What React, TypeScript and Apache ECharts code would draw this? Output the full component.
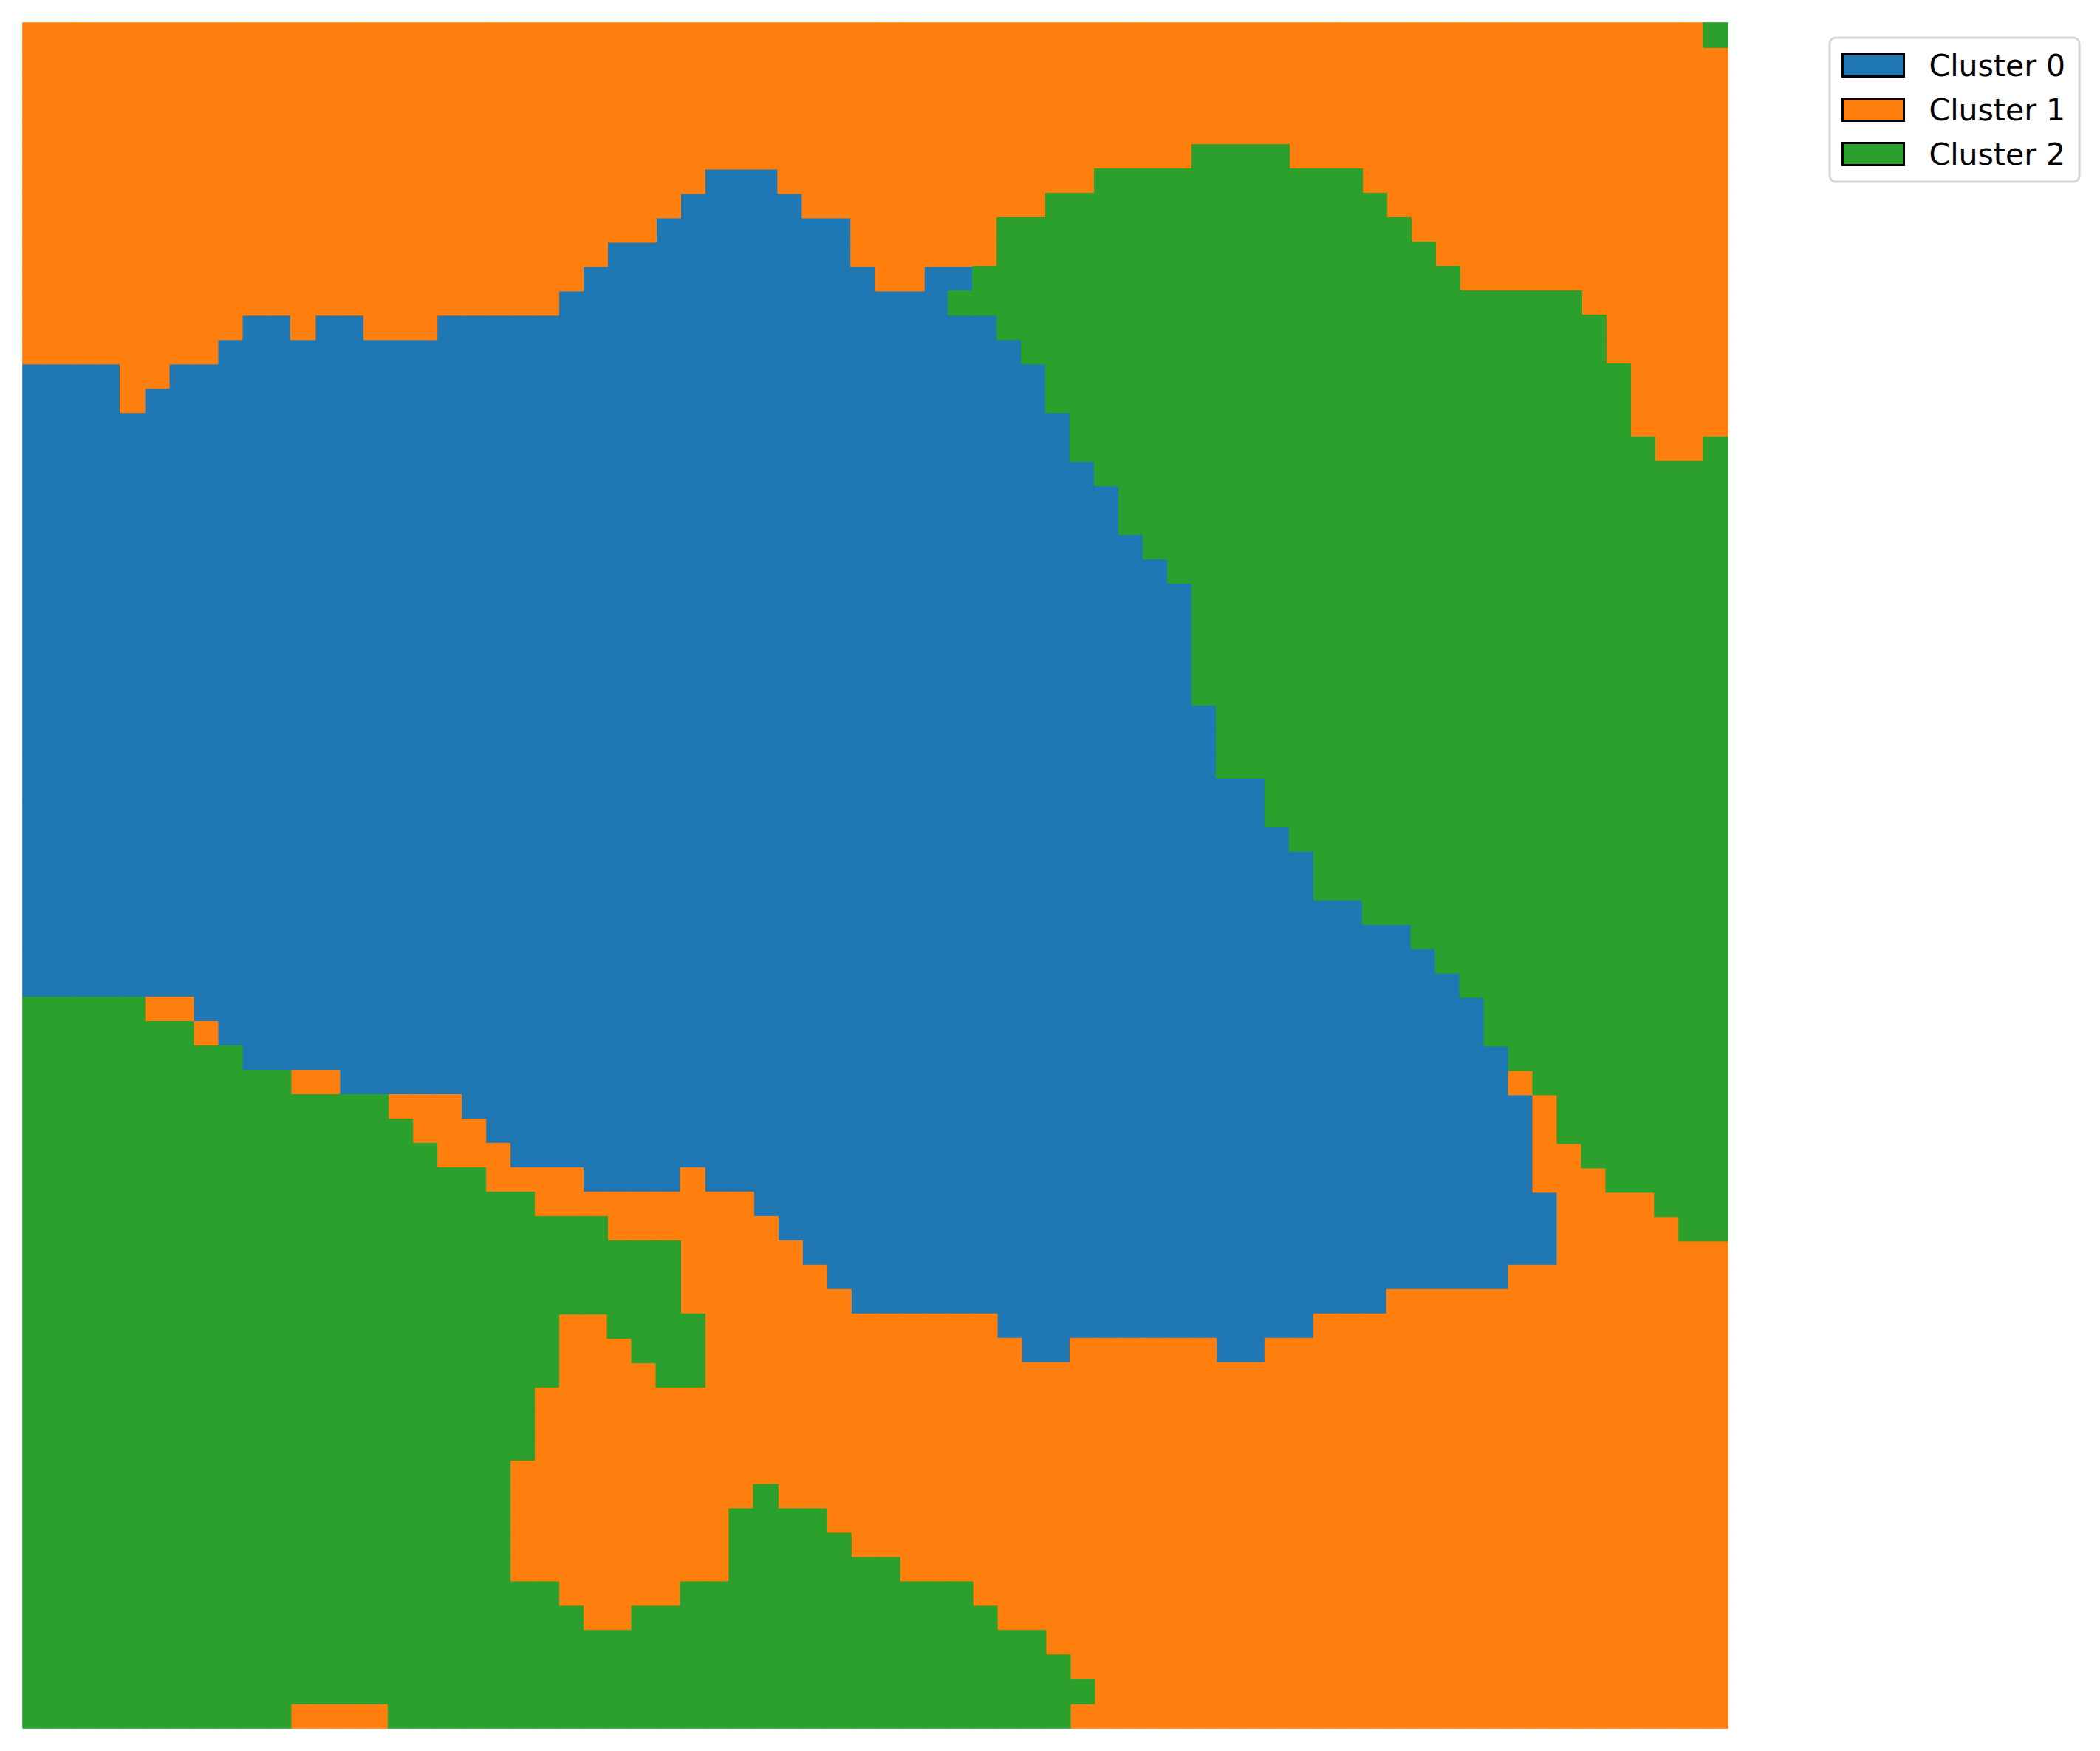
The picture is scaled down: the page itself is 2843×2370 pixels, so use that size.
import React, { useEffect, useRef } from "react";
import * as echarts from "echarts";

// Cluster labels per grid row (top row first), run-length encoded as "cluster:count"
const ROWS: string[] = [
  "1:69,2:1",
  "1:70",
  "1:70",
  "1:70",
  "1:70",
  "1:48,2:4,1:18",
  "1:28,0:3,1:13,2:11,1:15",
  "1:27,0:5,1:10,2:14,1:14",
  "1:26,0:8,1:6,2:17,1:13",
  "1:24,0:10,1:6,2:18,1:12",
  "1:23,0:12,1:2,0:2,2:20,1:11",
  "1:22,0:16,2:26,1:6",
  "1:9,0:2,1:1,0:2,1:3,0:23,2:25,1:5",
  "1:8,0:33,2:24,1:5",
  "0:4,1:2,0:36,2:24,1:4",
  "0:4,1:1,0:37,2:24,1:4",
  "0:43,2:23,1:4",
  "0:43,2:24,1:2,2:1",
  "0:44,2:26",
  "0:45,2:25",
  "0:45,2:25",
  "0:46,2:24",
  "0:47,2:23",
  "0:48,2:22",
  "0:48,2:22",
  "0:48,2:22",
  "0:48,2:22",
  "0:48,2:22",
  "0:49,2:21",
  "0:49,2:21",
  "0:49,2:21",
  "0:51,2:19",
  "0:51,2:19",
  "0:52,2:18",
  "0:53,2:17",
  "0:53,2:17",
  "0:55,2:15",
  "0:57,2:13",
  "0:58,2:12",
  "0:59,2:11",
  "2:5,1:2,0:53,2:10",
  "2:7,1:1,0:52,2:10",
  "2:9,0:52,2:9",
  "2:11,1:2,0:48,1:1,2:8",
  "2:15,1:3,0:44,1:1,2:7",
  "2:16,1:3,0:43,1:1,2:7",
  "2:17,1:3,0:42,1:2,2:6",
  "2:19,1:4,0:4,1:1,0:34,1:3,2:5",
  "2:21,1:9,0:33,1:4,2:3",
  "2:24,1:7,0:32,1:5,2:2",
  "2:27,1:5,0:31,1:7",
  "2:27,1:6,0:28,1:9",
  "2:27,1:7,0:22,1:14",
  "2:22,1:2,2:4,1:12,0:13,1:17",
  "2:22,1:3,2:3,1:13,0:2,1:6,0:2,1:19",
  "2:22,1:4,2:2,1:42",
  "2:21,1:49",
  "2:21,1:49",
  "2:21,1:49",
  "2:20,1:50",
  "2:20,1:10,2:1,1:39",
  "2:20,1:9,2:4,1:37",
  "2:20,1:9,2:5,1:36",
  "2:20,1:9,2:7,1:34",
  "2:22,1:5,2:12,1:31",
  "2:23,1:2,2:15,1:30",
  "2:42,1:28",
  "2:43,1:27",
  "2:44,1:26",
  "2:11,1:4,2:28,1:27",
];

const CLUSTER_NAMES: string[] = ["Cluster 0", "Cluster 1", "Cluster 2"];
const CLUSTER_COLORS: string[] = ["#1f77b4", "#ff7f0e", "#2ca02c"];
const N_COLS = 70;
const COL_LABELS: string[] = Array.from({ length: N_COLS }, (_, i) => String(i));
const ROW_LABELS: string[] = ROWS.map((_, i) => String(i));

function decodeCells(): number[][][] {
  const byCluster: number[][][] = CLUSTER_NAMES.map(() => []);
  ROWS.forEach((row, r) => {
    let c = 0;
    row.split(",").forEach((run) => {
      const [k, n] = run.split(":").map(Number);
      for (let i = 0; i < n; i++) {
        byCluster[k].push([c, r, k]);
        c++;
      }
    });
  });
  return byCluster;
}

export default function App() {
  const ref = useRef<HTMLDivElement>(null);
  useEffect(() => {
    if (!ref.current) return;
    const chart = echarts.init(ref.current, null, { renderer: "svg" });
    const cells = decodeCells();
    chart.setOption({
      animation: false,
      backgroundColor: "#ffffff",
      color: CLUSTER_COLORS,
      grid: { left: 31, top: 31, width: 2308, height: 2308, containLabel: false },
      xAxis: {
        type: "category",
        data: COL_LABELS,
        show: false,
        boundaryGap: true,
      },
      yAxis: {
        type: "category",
        data: ROW_LABELS,
        inverse: true,
        show: false,
        boundaryGap: true,
      },
      visualMap: {
        type: "piecewise",
        show: false,
        dimension: 2,
        seriesIndex: [0, 1, 2],
        pieces: CLUSTER_COLORS.map((color, k) => ({ value: k, color })),
      },
      legend: {
        orient: "vertical",
        left: 2477,
        top: 51,
        padding: [17, 19, 17, 16],
        itemGap: 19,
        itemWidth: 83,
        itemHeight: 30,
        icon: "rect",
        selectedMode: false,
        backgroundColor: "#ffffff",
        borderColor: "#d6d6d6",
        borderWidth: 3,
        borderRadius: 8,
        textStyle: {
          fontFamily: "DejaVu Sans",
          fontSize: 41,
          color: "#000000",
          lineHeight: 30,
          padding: [0, 0, 0, 29],
        },
        data: CLUSTER_NAMES.map((name, k) => ({
          name,
          itemStyle: { color: CLUSTER_COLORS[k], borderColor: "#000000", borderWidth: 3 },
        })),
      },
      series: CLUSTER_NAMES.map((name, k) => ({
        type: "heatmap",
        name,
        data: cells[k],
        progressive: 0,
        itemStyle: { color: CLUSTER_COLORS[k], borderColor: CLUSTER_COLORS[k], borderWidth: 1 },
        emphasis: { disabled: true },
        silent: true,
      })),
    });
    return () => chart.dispose();
  }, []);
  return (
    <div
      ref={ref}
      style={{ position: "absolute", left: 0, top: 0, width: 2843, height: 2370 }}
    />
  );
}
